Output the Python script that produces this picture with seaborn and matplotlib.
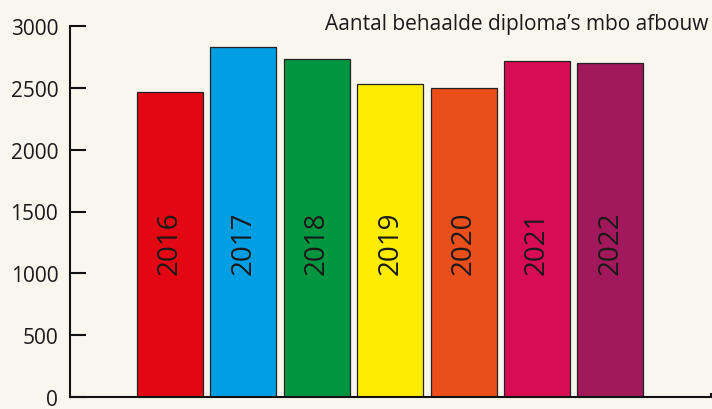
import pandas as pd
import matplotlib.pyplot as plt
import seaborn as sns

# data
years = ['2016', '2017', '2018', '2019', '2020', '2021', '2022']
diplomas = [2470, 2834, 2732, 2532, 2500, 2721, 2702]
bar_colors = ['#e30613', '#009fe3', '#009640', '#ffed00', '#e94e1b', '#d70c52', '#a2195b']
y_ticks = [0, 500, 1000, 1500, 2000, 2500, 3000]
title = 'Aantal behaalde diploma\u2019s mbo afbouw'

bg = '#f9f6ee'

sns.set_style('white')
plt.rcParams['font.family'] = ['Open Sans', 'DejaVu Sans']

df = pd.DataFrame({'jaar': years, 'aantal': diplomas})

fig = plt.figure(figsize=(7.12, 4.10), dpi=100, facecolor=bg)
ax = fig.add_axes([70 / 712, 12 / 410, 641 / 712, 371 / 410])
ax.set_facecolor(bg)

sns.barplot(data=df, x='jaar', y='aantal', hue='jaar', palette=bar_colors,
            width=0.9, edgecolor='#222222', linewidth=0.9, legend=False,
            saturation=1, ax=ax)

# year labels inside the bars
for i, yr in enumerate(years):
    ax.text(i, 1250, yr, rotation=90, ha='center', va='center',
            fontsize=20, color='#1a1a1a')

ax.set_ylim(0, 3000)
ax.set_xlim(-1.36, 7.37)
ax.set_yticks(y_ticks)
ax.set_yticklabels([str(t) for t in y_ticks], fontsize=15, color='#1a1a1a')
ax.tick_params(axis='y', left=True, direction='in', length=11.5, width=1.5,
               pad=8.5, color='#111111', labelcolor='#1a1a1a')
ax.set_xticks([7.37])
ax.set_xticklabels([''])
ax.tick_params(axis='x', bottom=True, direction='in', length=3, width=1.5, color='#111111')
ax.set_xlabel('')
ax.set_ylabel('')

for side in ['top', 'right']:
    ax.spines[side].set_visible(False)
for side in ['left', 'bottom']:
    ax.spines[side].set_linewidth(1.5)
    ax.spines[side].set_color('#111111')

fig.text(708 / 712, 1 - 30 / 410, title, ha='right', va='baseline',
         fontsize=15, color='#1a1a1a')

fig.savefig('out.png', dpi=100, facecolor=bg)
